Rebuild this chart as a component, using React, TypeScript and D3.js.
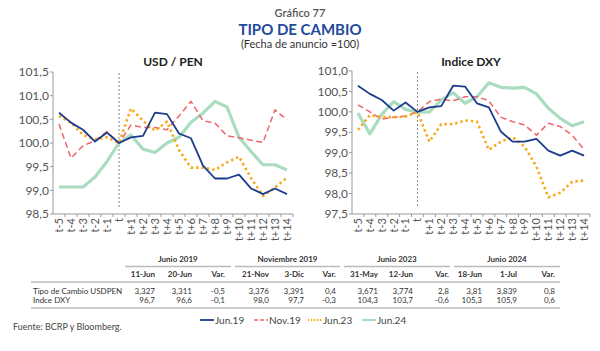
import React from "react";
import * as d3 from "d3";

// categories around the announcement date
const categories = [
  "t-5", "t-4", "t-3", "t-2", "t-1", "t",
  "t+1", "t+2", "t+3", "t+4", "t+5", "t+6", "t+7",
  "t+8", "t+9", "t+10", "t+11", "t+12", "t+13", "t+14",
];

const seriesNames = ["Jun.19", "Nov.19", "Jun.23", "Jun.24"];

// USD / PEN (announcement date = 100)
const usdJun19 = [100.64, 100.43, 100.28, 100.03, 100.22, 100.0, 100.12, 100.15, 100.64, 100.61, 100.2, 100.1, 99.52, 99.25, 99.25, 99.33, 99.04, 98.92, 99.04, 98.92];
const usdNov19 = [100.4, 99.68, 99.94, 100.05, 100.24, 100.0, 100.38, 100.33, 100.33, 100.28, 100.57, 100.88, 100.47, 100.42, 100.15, 100.11, 100.06, 100.01, 100.7, 100.49];
const usdJun23 = [100.57, 100.43, 100.17, 100.08, 100.12, 100.0, 100.73, 100.47, 100.26, 100.45, 99.85, 99.48, 99.48, 99.43, 99.59, 99.71, 99.26, 98.88, 99.06, 99.27];
const usdJun24 = [99.07, 99.07, 99.07, 99.28, 99.61, 100.0, 100.17, 99.87, 99.8, 100.0, 100.12, 100.44, 100.63, 100.88, 100.76, 100.12, 99.82, 99.54, 99.54, 99.43];

// Indice DXY
const dxyJun19 = [100.64, 100.44, 100.29, 100.03, 100.23, 100.0, 100.11, 100.14, 100.64, 100.62, 100.21, 100.11, 99.52, 99.27, 99.27, 99.34, 99.05, 98.93, 99.05, 98.93];
const dxyNov19 = [100.17, 100.0, 99.82, 99.87, 99.9, 100.0, 100.25, 100.31, 100.27, 100.37, 100.37, 100.27, 99.87, 99.76, 99.68, 99.43, 99.72, 99.64, 99.43, 99.08];
const dxyJun23 = [99.56, 99.92, 99.87, 99.87, 99.88, 100.0, 99.27, 99.7, 99.7, 99.79, 99.76, 99.07, 99.27, 99.38, 99.15, 98.66, 97.91, 98.02, 98.29, 98.32];
const dxyJun24 = [99.97, 99.46, 99.94, 100.25, 100.06, 99.99, 100.0, 100.29, 100.47, 100.21, 100.37, 100.71, 100.6, 100.58, 100.6, 100.44, 100.09, 99.84, 99.66, 99.76];

const usdTicks = [98.5, 99.0, 99.5, 100.0, 100.5, 101.0, 101.5];
const dxyTicks = [97.5, 98.0, 98.5, 99.0, 99.5, 100.0, 100.5, 101.0];

// table
const groupHeads = ["Junio 2019", "Noviembre 2019", "Junio 2023", "Junio 2024"];
const colHeads = ["11-Jun", "20-Jun", "Var.", "21-Nov", "3-Dic", "Var.", "31-May", "12-Jun", "Var.", "18-Jun", "1-Jul", "Var."];
const rowLabels = ["Tipo de Cambio USDPEN", "Indce DXY"];
const rowUsd = ["3,327", "3,311", "-0,5", "3,376", "3,391", "0,4", "3,671", "3,774", "2,8", "3,81", "3,839", "0,8"];
const rowDxy = ["96,7", "96,6", "-0,1", "98,0", "97,7", "-0,3", "104,3", "103,7", "-0,6", "105,3", "105,9", "0,6"];

const lineStyle: Record<string, { color: string; width: number; dash?: string }> = {
  "Jun.19": { color: "#1b3b8c", width: 1.8 },
  "Nov.19": { color: "#f0646c", width: 1.5, dash: "6,3.5" },
  "Jun.23": { color: "#f8a91c", width: 2.6, dash: "2.4,3" },
  "Jun.24": { color: "#a9dcc0", width: 3.2 },
};

const FONT = "Lato, 'Open Sans', sans-serif";
const fmt = (v: number) => d3.format(".1f")(v).replace(".", ",");

type PanelProps = {
  title: string;
  series: number[][];
  ticks: number[];
  x0: number;
  x1: number;
  yTop: number;
  yBot: number;
};

function Panel({ title, series, ticks, x0, x1, yTop, yBot }: PanelProps) {
  const x = d3.scalePoint<string>().domain(categories).range([x0, x1]).padding(0.5);
  const y = d3.scaleLinear().domain([ticks[0], ticks[ticks.length - 1]]).range([yBot, yTop]);
  const step = x.step();
  const line = d3.line<number>()
    .x((d, i) => x(categories[i]) as number)
    .y(d => y(d));
  // green under, then red, orange, blue on top
  const order = [3, 1, 2, 0];
  const tx = x("t") as number;
  return (
    <g>
      <text x={(x0 + x1) / 2} y={66} textAnchor="middle" fontSize={12} fontWeight="bold" fill="#222">{title}</text>
      {/* y axis */}
      <line x1={x0} x2={x0} y1={yTop} y2={yBot} stroke="#999" strokeWidth={1} />
      {ticks.map(t => (
        <g key={t}>
          <line x1={x0 - 3} x2={x0} y1={y(t)} y2={y(t)} stroke="#999" />
          <text x={x0 - 4} y={y(t)} dy="0.35em" textAnchor="end" fontSize={12} fill="#555">{fmt(t)}</text>
        </g>
      ))}
      {/* x axis */}
      <line x1={x0} x2={x1} y1={yBot} y2={yBot} stroke="#999" strokeWidth={1} />
      {categories.map((c, i) => (
        <line key={"tk" + c} x1={x0 + step * (i + 1)} x2={x0 + step * (i + 1)} y1={yBot} y2={yBot + 3} stroke="#999" />
      ))}
      {categories.map(c => (
        <text key={c} transform={`translate(${x(c)},${yBot + 4}) rotate(-90)`} textAnchor="end" dy="0.35em" fontSize={11} fill="#555">{c}</text>
      ))}
      <line x1={tx} x2={tx} y1={yTop + 1} y2={yBot - 7} stroke="#888" strokeDasharray="2,2" strokeWidth={1} />
      {order.map(k => {
        const s = lineStyle[seriesNames[k]];
        return (
          <path key={seriesNames[k]} d={line(series[k]) || ""} fill="none" stroke={s.color}
            strokeWidth={s.width} strokeDasharray={s.dash} strokeLinejoin="round" />
        );
      })}
    </g>
  );
}

const colRight = [155, 192, 225, 269, 304, 336, 378, 413, 449, 482, 517, 555];
const groupSpan = [[125, 231], [235, 340], [344, 450], [454, 560]];
const legendX = [200, 254, 308, 362];

export default function App() {
  return (
    <svg width={600} height={351} style={{ position: "absolute", left: 0, top: 0, background: "#fff" }} fontFamily={FONT}>
      <text x={300} y={17} textAnchor="middle" fontSize={11} fill="#555" fontWeight={600}>Gráfico 77</text>
      <text x={300} y={34.5} textAnchor="middle" fontSize={15} fill="#1d4a9c" fontWeight="bold">TIPO DE CAMBIO</text>
      <text x={300} y={48} textAnchor="middle" fontSize={11} fill="#333">(Fecha de anuncio =100)</text>

      <Panel title="USD / PEN" series={[usdJun19, usdNov19, usdJun23, usdJun24]} ticks={usdTicks} x0={53} x1={293} yTop={72} yBot={214} />
      <Panel title="Indice DXY" series={[dxyJun19, dxyNov19, dxyJun23, dxyJun24]} ticks={dxyTicks} x0={352} x1={590} yTop={71} yBot={214} />

      {/* table */}
      <g fontSize={8} fill="#333">
        {groupHeads.map((g, i) => (
          <g key={g}>
            <text x={(groupSpan[i][0] + groupSpan[i][1]) / 2} y={262} textAnchor="middle" fontWeight="bold">{g}</text>
            <line x1={groupSpan[i][0]} x2={groupSpan[i][1]} y1={266.5} y2={266.5} stroke="#bbb" strokeWidth={1.5} />
          </g>
        ))}
        {colHeads.map((c, i) => (
          <text key={i} x={colRight[i]} y={277} textAnchor="end" fontWeight="bold">{c}</text>
        ))}
        <line x1={31} x2={560} y1={282} y2={282} stroke="#bbb" strokeWidth={1.5} />
        <text x={33} y={294}>{rowLabels[0]}</text>
        <text x={33} y={303}>{rowLabels[1]}</text>
        {rowUsd.map((v, i) => (
          <text key={"u" + i} x={colRight[i]} y={294} textAnchor="end">{v}</text>
        ))}
        {rowDxy.map((v, i) => (
          <text key={"d" + i} x={colRight[i]} y={303} textAnchor="end">{v}</text>
        ))}
        <line x1={31} x2={560} y1={308} y2={308} stroke="#bbb" strokeWidth={1.5} />
      </g>

      {/* legend */}
      {seriesNames.map((n, i) => {
        const s = lineStyle[n];
        return (
          <g key={n}>
            <line x1={legendX[i]} x2={legendX[i] + 14} y1={320} y2={320} stroke={s.color}
              strokeWidth={Math.min(s.width, 2)} strokeDasharray={s.dash ? (i === 1 ? "4,2" : "1.5,1.5") : undefined} />
            <text x={legendX[i] + 15} y={320} dy="0.35em" fontSize={10} fill="#444">{n}</text>
          </g>
        );
      })}
      <text x={13} y={330} fontSize={9} fill="#444">Fuente: BCRP y Bloomberg.</text>
    </svg>
  );
}
